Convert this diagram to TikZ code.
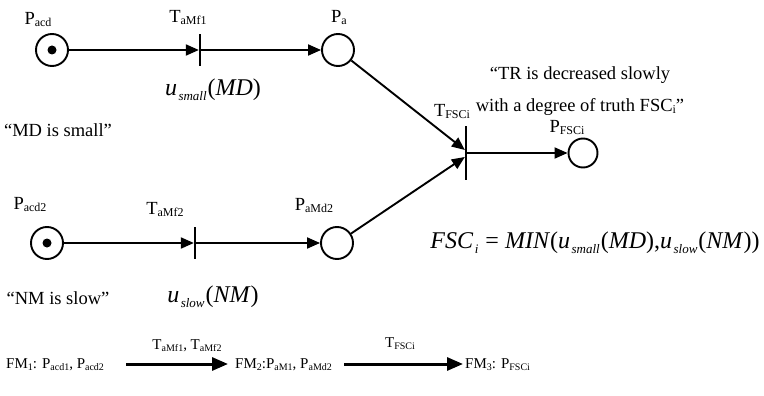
\documentclass[tikz,border=0pt]{standalone}
\usepackage{fontspec}
\setmainfont{Liberation Serif}
\usetikzlibrary{arrows.meta}
% subscripts for labels, the bottom row and the formulas
\newcommand\subA[1]{\raisebox{-2pt}{\fontsize{12}{12}\selectfont #1}}
\newcommand\subB[1]{\raisebox{-2pt}{\fontsize{10}{10}\selectfont #1}}
\newcommand\subF[1]{\kern1.5pt\raisebox{-5pt}{\fontsize{13}{13}\selectfont\itshape #1}\kern1pt\relax}
\begin{document}
\begin{tikzpicture}[x=1pt,y=-1pt,
  place/.style={circle,draw,line width=1.9pt,minimum size=32pt,inner sep=0pt},
  token/.style={circle,fill,minimum size=9pt,inner sep=0pt},
  trans/.style={rectangle,fill,inner sep=0pt,minimum width=1.9pt,minimum height=32pt},
  arc/.style={line width=1.9pt,-{Triangle[length=13pt,width=11pt]}},
  bigarc/.style={line width=3pt,-{Triangle[length=16pt,width=13pt]}},
  lbl/.style={font=\fontsize{18.5}{20}\selectfont,inner sep=0pt},
  formula/.style={font=\fontsize{24}{26}\selectfont,inner sep=0pt},
  row/.style={font=\fontsize{15}{17}\selectfont,inner sep=0pt,text height=12pt,text depth=4pt},
]
\useasboundingbox (0,0) rectangle (764,396);

% upper branch
\node[place] (pacd) at (52,50) {};
\node[token] (pacdtok) at (pacd) {};
\node[trans] (tamf1) at (200,50) {};
\node[place] (pa) at (338,50) {};
\node[lbl] (lpacd) at (38,20) {P\subA{acd}};
\node[lbl] (ltamf1) at (188,18) {T\subA{aMf1}};
\node[lbl] (lpa) at (339,18) {P\subA{a}};
\node[lbl] (mdsmall) at (58,130) {“MD is small”};
\node[formula] (usmall) at (213,90) {\textit{u}\subF{small}(\textit{MD})};

% lower branch
\node[place] (pacd2) at (47,243) {};
\node[token] (pacd2tok) at (pacd2) {};
\node[trans] (tamf2) at (195,243) {};
\node[place] (pamd2) at (337,243) {};
\node[lbl] (lpacd2) at (30,205) {P\subA{acd2}};
\node[lbl] (ltamf2) at (165,210) {T\subA{aMf2}};
\node[lbl] (lpamd2) at (314,206) {P\subA{aMd2}};
\node[lbl] (nmslow) at (58,298) {“NM is slow”};
\node[formula] (uslow) at (213,297) {\textit{u}\subF{slow}(\textit{NM})};

% joining transition and result place
\node[trans,minimum height=54pt] (tfsc) at (466,153) {};
\node[place,minimum size=29pt] (pfsc) at (583,153) {};
\node[lbl] (ltfsc) at (452,112) {T\subA{FSCi}};
\node[lbl] (lpfsc) at (567,128) {P\subA{FSCi}};
\node[lbl] (quote1) at (580,75) {“TR is decreased slowly};
\node[lbl] (quote2) at (580,107) {with a degree of truth FSC\subA{i}”};
\node[formula] (fsc) at (595,243) {\textit{FSC}\subF{i} = \textit{MIN}(\textit{u}\subF{small}(\textit{MD}),\textit{u}\subF{slow}(\textit{NM}))};

% arcs
\draw[arc] (pacd) -- (tamf1);
\draw[arc] (tamf1) -- (pa);
\draw[arc] (pacd2) -- (tamf2);
\draw[arc] (tamf2) -- (pamd2);
\draw[arc] (pa) -- ([yshift=3pt]tfsc.west);
\draw[arc] (pamd2) -- ([yshift=-4pt]tfsc.west);
\draw[arc] (tfsc) -- (pfsc);

% marking sequence
\node[row,anchor=west] (fm1) at (6,364) {FM\subB{1}: P\subB{acd1}, P\subB{acd2}};
\node[row,anchor=west] (fm2) at (235,364) {FM\subB{2}:P\subB{aM1}, P\subB{aMd2}};
\node[row,anchor=west] (fm3) at (465,364) {FM\subB{3}: P\subB{FSCi}};
\node[row] (lseq1) at (187,345) {T\subB{aMf1}, T\subB{aMf2}};
\node[row] (lseq2) at (400,343) {T\subB{FSCi}};
\draw[bigarc] ([xshift=22pt]fm1.east) -- ([xshift=-7pt]fm2.west);
\draw[bigarc] ([xshift=12pt]fm2.east) -- ([xshift=-2pt]fm3.west);
\end{tikzpicture}
\end{document}
